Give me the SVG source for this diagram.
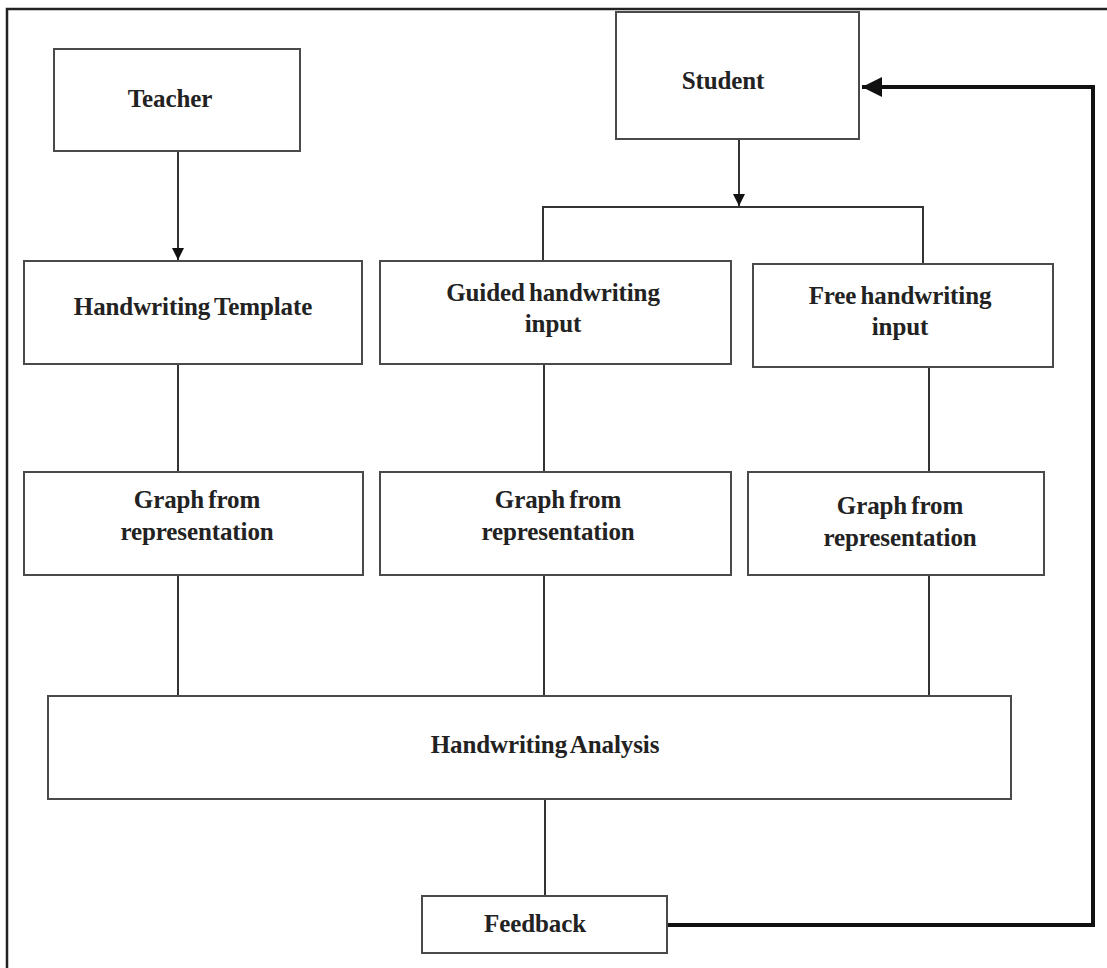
<svg xmlns="http://www.w3.org/2000/svg" width="1107" height="968" viewBox="0 0 1107 968">
<style>
.box{fill:#fff;stroke:#4a4a4a;stroke-width:2}
.t{font-family:"Liberation Serif","Times New Roman",serif;font-weight:bold;font-size:25px;fill:#222;text-anchor:middle;word-spacing:-2px;letter-spacing:-0.1px}
.c{fill:none;stroke:#333;stroke-width:2}
.loop{fill:none;stroke:#111;stroke-width:4;stroke-linejoin:miter}
</style>
<defs>
<marker id="ah" viewBox="0 0 10 10" refX="10" refY="5" markerWidth="12" markerHeight="13" markerUnits="userSpaceOnUse" orient="auto">
<path d="M0,0 L10,5 L0,10 Z" fill="#111"/>
</marker>
<marker id="ah2" viewBox="0 0 10 10" refX="10" refY="5" markerWidth="5" markerHeight="5" orient="auto">
<path d="M0,0 L10,5 L0,10 Z" fill="#111"/>
</marker>
</defs>
<rect x="0" y="0" width="1107" height="968" fill="#fff"/>
<rect x="7" y="9" width="1115" height="980" fill="none" stroke="#222" stroke-width="2.5"/>
<g id="connectors">
<line class="c" x1="178" y1="151" x2="178" y2="260" marker-end="url(#ah)"/>
<line class="c" x1="739" y1="139" x2="739" y2="206" marker-end="url(#ah)"/>
<polyline class="c" points="543,262 543,207 923,207 923,264"/>
<line class="c" x1="178" y1="364" x2="178" y2="472"/>
<line class="c" x1="544" y1="364" x2="544" y2="472"/>
<line class="c" x1="929" y1="367" x2="929" y2="472"/>
<line class="c" x1="178" y1="575" x2="178" y2="696"/>
<line class="c" x1="544" y1="575" x2="544" y2="696"/>
<line class="c" x1="929" y1="575" x2="929" y2="696"/>
<line class="c" x1="545" y1="799" x2="545" y2="896"/>
<polyline class="loop" points="667,925 1093,925 1093,87 862,87" marker-end="url(#ah2)"/>
</g>
<g id="teacher">
<rect class="box" x="54" y="49" width="246" height="102"/>
<text class="t" x="170" y="107">Teacher</text>
</g>
<g id="student">
<rect class="box" x="616" y="12" width="243" height="127"/>
<text class="t" x="723" y="89">Student</text>
</g>
<g id="template">
<rect class="box" x="24" y="261" width="338" height="103"/>
<text class="t" x="193" y="315">Handwriting Template</text>
</g>
<g id="guided">
<rect class="box" x="380" y="261" width="351" height="103"/>
<text class="t" x="553" y="301">Guided handwriting</text>
<text class="t" x="553" y="332">input</text>
</g>
<g id="free">
<rect class="box" x="753" y="264" width="300" height="103"/>
<text class="t" x="900" y="304">Free handwriting</text>
<text class="t" x="900" y="335">input</text>
</g>
<g id="graph1">
<rect class="box" x="24" y="472" width="339" height="103"/>
<text class="t" x="197" y="508">Graph from</text>
<text class="t" x="197" y="540">representation</text>
</g>
<g id="graph2">
<rect class="box" x="380" y="472" width="351" height="103"/>
<text class="t" x="558" y="508">Graph from</text>
<text class="t" x="558" y="540">representation</text>
</g>
<g id="graph3">
<rect class="box" x="748" y="472" width="296" height="103"/>
<text class="t" x="900" y="514">Graph from</text>
<text class="t" x="900" y="546">representation</text>
</g>
<g id="analysis">
<rect class="box" x="48" y="696" width="963" height="103"/>
<text class="t" x="545" y="753">Handwriting Analysis</text>
</g>
<g id="feedback">
<rect class="box" x="422" y="896" width="245" height="57"/>
<text class="t" x="535" y="932">Feedback</text>
</g>
</svg>
